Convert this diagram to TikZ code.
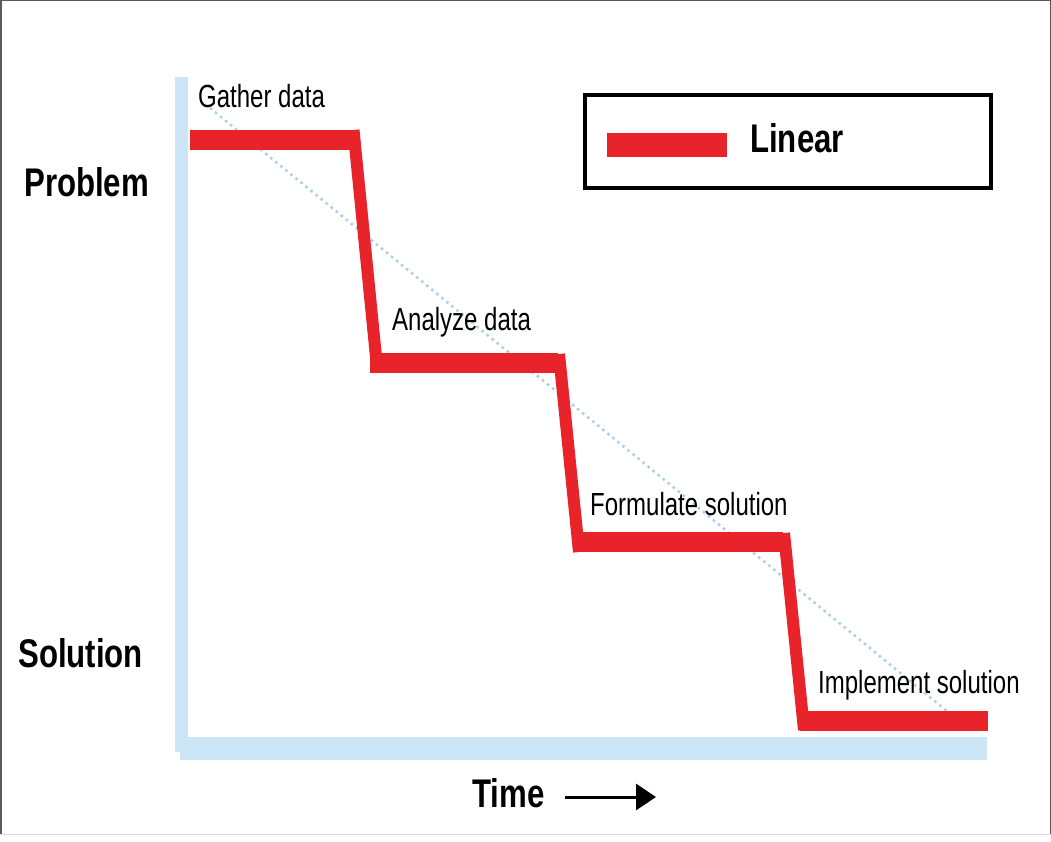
\documentclass[tikz,border=0pt]{standalone}
\usepackage{fontspec}
\setmainfont{Liberation Sans}
\newfontfamily\labfont[FakeStretch=0.75]{Liberation Sans}
\newfontfamily\headfont[FakeStretch=0.78]{Liberation Sans}
\usetikzlibrary{arrows.meta}
\definecolor{axisblue}{HTML}{CCE6F8}
\definecolor{dotblue}{HTML}{A9CFEC}
\definecolor{stepred}{HTML}{E8232A}
\begin{document}
\begin{tikzpicture}[x=1pt,y=-1pt,
  steplabel/.style={anchor=base west,inner sep=0pt,font=\labfont\fontsize{32}{36}\selectfont},
  heading/.style={anchor=base west,inner sep=0pt,font=\headfont\bfseries\fontsize{40}{44}\selectfont},
  axisbar/.style={fill=axisblue,draw=none},
  flatpart/.style={draw=stepred,line width=20pt,line cap=butt},
  droppart/.style={draw=stepred,line width=12pt,line cap=butt},
  guide/.style={draw=dotblue,line width=2.5pt,dash pattern=on 2.5pt off 4pt},
]
\useasboundingbox (0,0) rectangle (1051,842);
\fill[white] (0,0) rectangle (1051,842);
% frame
\draw[line width=1.5pt,black!65] (0.75,835) -- (0.75,0.75) -- (1050.25,0.75) -- (1050.25,835);
\draw[line width=1pt,black!15] (0,834) -- (1051,834);

% axes
\path[axisbar] (175,77) rectangle (188,752);
\path[axisbar] (180,737) rectangle (987,760);

% dotted guide
\coordinate (g0) at (210,108);
\coordinate (g1) at (948,712);
\draw[guide] (g0) -- (g1);

% step line vertices
\coordinate (a0) at (190,140);   \coordinate (a1) at (358,140);
\coordinate (s1a) at (353.5,130); \coordinate (s1b) at (377.5,372);
\coordinate (b0) at (370,362.5); \coordinate (b1) at (558,362.5);
\coordinate (s2a) at (559,354);  \coordinate (s2b) at (579,552);
\coordinate (c0) at (575,542);   \coordinate (c1) at (783,542);
\coordinate (s3a) at (784,533);  \coordinate (s3b) at (804,730);
\coordinate (e0) at (800,720.5); \coordinate (e1) at (988,720.5);

\draw[flatpart] (a0) -- (a1);
\draw[droppart] (s1a) -- (s1b);
\draw[flatpart] (b0) -- (b1);
\draw[droppart] (s2a) -- (s2b);
\draw[flatpart] (c0) -- (c1);
\draw[droppart] (s3a) -- (s3b);
\draw[flatpart] (e0) -- (e1);

% step labels
\node[steplabel] (gather) at (198,108) {Gather data};
\node[steplabel] (analyze) at (392,330) {Analyze data};
\node[steplabel] (formulate) at (590,515) {Formulate solution};
\node[steplabel] (implement) at (818,693) {Implement solution};

% headings
\node[heading] (problem) at (24,197) {Problem};
\node[heading] (solution) at (18,667) {Solution};
\node[heading] (time) at (472,807) {Time};

% time arrow
\coordinate (ta0) at (565,797);
\coordinate (ta1) at (656,797);
\draw[line width=3pt,-{Triangle[length=20pt,width=26pt]}] (ta0) -- (ta1);

% legend
\node[draw=black,line width=4.5pt,minimum width=406pt,minimum height=93pt,inner sep=0pt] (legend) at (787.75,141.5) {};
\fill[stepred] (607,133) rectangle (727,157);
\node[heading] (linear) at (750,153) {Linear};
\end{tikzpicture}
\end{document}
